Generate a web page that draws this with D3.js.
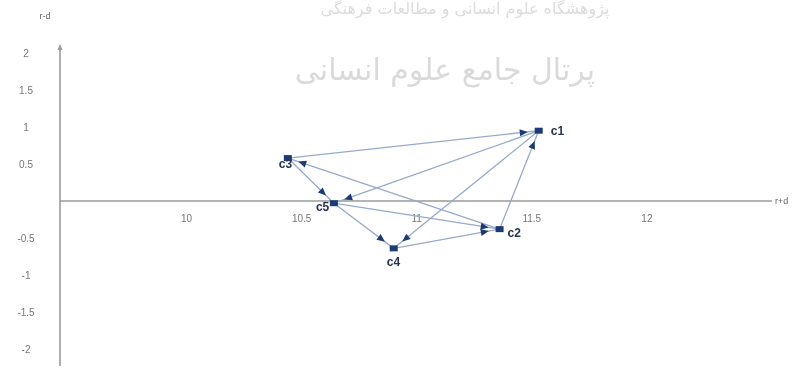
<!DOCTYPE html>
<html>
<head>
<meta charset="utf-8">
<script src="https://cdn.jsdelivr.net/npm/d3@7"></script>
<style>
  body { margin: 0; background: #fff; }
  svg { display: block; }
</style>
</head>
<body>
<svg></svg>
<script>
const width = 808;
const height = 369;

// DEMATEL criteria: horizontal = r+d, vertical = r-d
const criteria = ["c1", "c2", "c3", "c4", "c5"];
const rPlusD = [11.53, 11.36, 10.44, 10.9, 10.64];
const rMinusD = [0.95, -0.38, 0.58, -0.64, -0.03];

// influence arrows, source -> target
const sources = ["c3", "c1", "c3", "c1", "c2", "c2", "c5", "c5", "c4"];
const targets = ["c1", "c5", "c5", "c4", "c1", "c3", "c2", "c4", "c2"];

const xTicks = [10, 10.5, 11, 11.5, 12];
const yTicks = [2, 1.5, 1, 0.5, -0.5, -1, -1.5, -2];

const svg = d3.select("svg").attr("width", width).attr("height", height);

const defs = svg.append("defs");
defs.append("filter").attr("id", "soft")
  .append("feGaussianBlur").attr("stdDeviation", 0.55);

const x = d3.scaleLinear().domain([9.45, 12.7]).range([60, 808]);
const y = d3.scaleLinear().domain([-2, 2]).range([349, 53]);

const root = svg.append("g").attr("filter", "url(#soft)");

// watermark
root.append("text")
  .attr("x", 465).attr("y", 14)
  .attr("text-anchor", "middle")
  .attr("font-family", "DejaVu Sans")
  .attr("font-size", 16)
  .attr("fill", "#dcdcdc")
  .text("پژوهشگاه علوم انسانی و مطالعات فرهنگی");

root.append("text")
  .attr("x", 445).attr("y", 80)
  .attr("text-anchor", "middle")
  .attr("font-family", "DejaVu Sans")
  .attr("font-size", 30)
  .attr("fill", "#dadada")
  .text("پرتال جامع علوم انسانی");

// axes
const axisColor = "#9a9a9a";
root.append("line")
  .attr("x1", x.range()[0]).attr("x2", 772)
  .attr("y1", y(0)).attr("y2", y(0))
  .attr("stroke", axisColor).attr("stroke-width", 1.4);

root.append("line")
  .attr("x1", x.range()[0]).attr("x2", x.range()[0])
  .attr("y1", 47).attr("y2", 366)
  .attr("stroke", axisColor).attr("stroke-width", 1.6);

root.append("path")
  .attr("d", `M${x.range()[0] - 2.5},50 L${x.range()[0]},44 L${x.range()[0] + 2.5},50 Z`)
  .attr("fill", axisColor);

root.selectAll(".xt")
  .data(xTicks)
  .join("text")
  .attr("x", d => x(d))
  .attr("y", y(0) + 21)
  .attr("text-anchor", "middle")
  .attr("font-family", "Liberation Sans, Arial, sans-serif")
  .attr("font-size", 10)
  .attr("fill", "#777")
  .text(d => d);

root.selectAll(".yt")
  .data(yTicks)
  .join("text")
  .attr("x", 26)
  .attr("y", d => y(d) + 4)
  .attr("text-anchor", "middle")
  .attr("font-family", "Liberation Sans, Arial, sans-serif")
  .attr("font-size", 10)
  .attr("fill", "#777")
  .text(d => d);

root.append("text")
  .attr("x", 45).attr("y", 19)
  .attr("text-anchor", "middle")
  .attr("font-family", "Liberation Sans, Arial, sans-serif")
  .attr("font-size", 9)
  .attr("fill", "#666")
  .text("r-d");

root.append("text")
  .attr("x", 775).attr("y", 204)
  .attr("font-family", "Liberation Sans, Arial, sans-serif")
  .attr("font-size", 9)
  .attr("fill", "#666")
  .text("r+d");

// network
const pos = {};
criteria.forEach((c, i) => { pos[c] = [x(rPlusD[i]), y(rMinusD[i])]; });

const links = sources.map((s, i) => ({ s: pos[s], t: pos[targets[i]] }));

root.selectAll(".link")
  .data(links)
  .join("line")
  .attr("x1", d => d.s[0]).attr("y1", d => d.s[1])
  .attr("x2", d => d.t[0]).attr("y2", d => d.t[1])
  .attr("stroke", "#97aacc")
  .attr("stroke-width", 1.3);

const navy = "#1f3b74";
const gap = 11;
root.selectAll(".head")
  .data(links)
  .join("path")
  .attr("d", "M0,0 L-8,-3.5 L-8,3.5 Z")
  .attr("fill", navy)
  .attr("transform", d => {
    const dx = d.t[0] - d.s[0], dy = d.t[1] - d.s[1];
    const len = Math.hypot(dx, dy);
    const px = d.t[0] - dx / len * gap, py = d.t[1] - dy / len * gap;
    return `translate(${px},${py}) rotate(${Math.atan2(dy, dx) * 180 / Math.PI})`;
  });

root.selectAll(".node")
  .data(criteria)
  .join("rect")
  .attr("x", d => pos[d][0] - 4).attr("y", d => pos[d][1] - 3)
  .attr("width", 8).attr("height", 6)
  .attr("fill", navy);

const labelOffset = { c1: [12, 4], c2: [8, 8], c3: [-9, 10], c4: [-7, 18], c5: [-18, 8] };
root.selectAll(".lab")
  .data(criteria)
  .join("text")
  .attr("x", d => pos[d][0] + labelOffset[d][0])
  .attr("y", d => pos[d][1] + labelOffset[d][1])
  .attr("font-family", "Liberation Sans, Arial, sans-serif")
  .attr("font-size", 12)
  .attr("font-weight", "bold")
  .attr("fill", "#2a3550")
  .text(d => d);
</script>
</body>
</html>
